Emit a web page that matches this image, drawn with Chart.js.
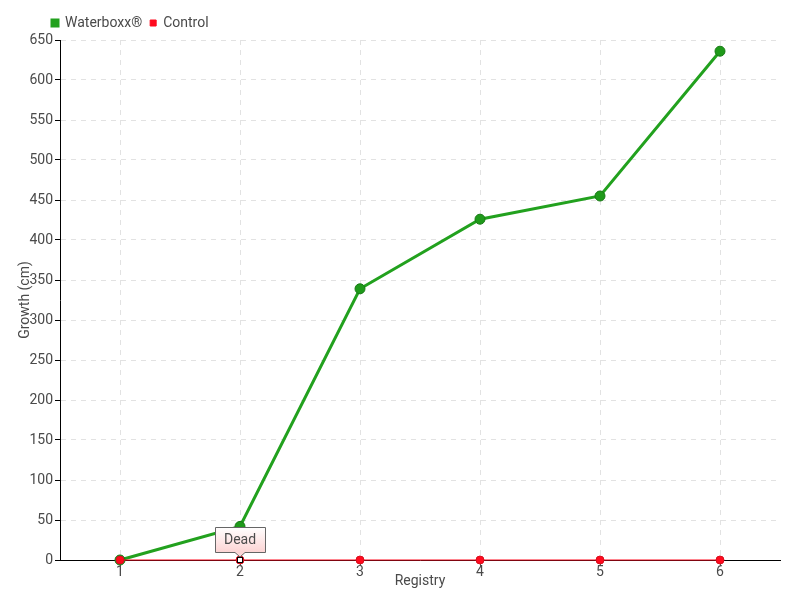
<!DOCTYPE html>
<html>
<head>
<meta charset="utf-8">
<script src="https://cdn.jsdelivr.net/npm/chart.js@4/dist/chart.umd.min.js"></script>
<style>
  html, body { margin: 0; padding: 0; background: #fff; }
  #wrap { width: 800px; height: 600px; }
</style>
</head>
<body>
<div id="wrap"><canvas id="myChart" width="800" height="600"></canvas></div>
<script>
// Data
const registry = ["1", "2", "3", "4", "5", "6"];
const waterboxx = [0, 42, 339, 426, 455, 636];
const control = [0, 0, 0, 0, 0, 0];
const notes = { 1: "Dead" }; // note on the control series, by index

const FONT = "Roboto, 'Noto Sans', sans-serif";
Chart.defaults.font.family = FONT;
Chart.defaults.font.size = 14;
Chart.defaults.color = "#4a4a4a";

// Push the legend to the right a bit, like the original
const legendShift = {
  id: "legendShift",
  afterLayout(chart) {
    chart.legend.left += 44;
    chart.legend.right += 44;
  }
};

// Little callout box above a control point
const notePlugin = {
  id: "notes",
  afterDatasetsDraw(chart) {
    const ctx = chart.ctx;
    const xs = chart.scales.x, ys = chart.scales.y;
    Object.keys(notes).forEach(i => {
      const px = xs.getPixelForValue(Number(i));
      const py = ys.getPixelForValue(control[i]);
      // marker
      ctx.save();
      ctx.fillStyle = "#fff";
      ctx.strokeStyle = "#000";
      ctx.lineWidth = 1;
      ctx.fillRect(px - 2.5, py - 2.5, 5, 5);
      ctx.strokeRect(px - 2.5, py - 2.5, 5, 5);
      // box
      const w = 50, h = 25;
      const left = px - w / 2, bottom = py - 8, top = bottom - h;
      const g = ctx.createLinearGradient(0, top, 0, bottom);
      g.addColorStop(0, "#ffffff");
      g.addColorStop(1, "#fcd4d4");
      ctx.beginPath();
      ctx.moveTo(left + 0.5, top + 0.5);
      ctx.lineTo(left + w + 0.5, top + 0.5);
      ctx.lineTo(left + w + 0.5, bottom + 0.5);
      ctx.lineTo(px + 5, bottom + 0.5);
      ctx.lineTo(px, bottom + 5);
      ctx.lineTo(px - 5, bottom + 0.5);
      ctx.lineTo(left + 0.5, bottom + 0.5);
      ctx.closePath();
      ctx.fillStyle = g;
      ctx.fill();
      ctx.strokeStyle = "#666";
      ctx.stroke();
      ctx.fillStyle = "#4a4a4a";
      ctx.font = "14px " + FONT;
      ctx.textAlign = "center";
      ctx.textBaseline = "middle";
      ctx.fillText(notes[i], px, top + h / 2 + 1);
      ctx.restore();
    });
  }
};

const ctx = document.getElementById("myChart").getContext("2d");
new Chart(ctx, {
  type: "line",
  data: {
    labels: registry,
    datasets: [
      {
        label: "Waterboxx®",
        data: waterboxx,
        order: 1,
        clip: false,
        borderColor: "#22a11e",
        backgroundColor: "#22a11e",
        pointBackgroundColor: "#1f9a1a",
        pointBorderColor: "#177a14",
        borderWidth: 3,
        pointRadius: 5,
        pointBorderWidth: 1,
        tension: 0
      },
      {
        label: "Control",
        data: control,
        order: 0,
        clip: false,
        borderColor: "#ff0a1e",
        backgroundColor: "#ff0a1e",
        pointBackgroundColor: "#ff0a1e",
        pointBorderColor: "#d8101e",
        pointRadius: 4,
        pointBorderWidth: 1,
        borderWidth: 1,
        tension: 0
      }
    ]
  },
  options: {
    responsive: false,
    animation: false,
    layout: { padding: { left: 0, right: 20, top: 8, bottom: 0 } },
    plugins: {
      legend: {
        display: true,
        position: "top",
        align: "start",
        labels: {
          boxWidth: 6,
          boxHeight: 6,
          padding: 8,
          font: { size: 14 },
          color: "#4a4a4a",
          sort: (a, b) => a.datasetIndex - b.datasetIndex
        }
      },
      tooltip: { enabled: false }
    },
    scales: {
      x: {
        offset: true,
        title: { display: true, text: "Registry", padding: { top: 0, bottom: 10 }, font: { size: 14 } },
        border: { display: true, color: "#000", width: 1, dash: [5, 5] },
        grid: { color: "#e2e2e2", tickColor: "#555", tickLength: 6, tickBorderDash: [] },
        ticks: { padding: -2 },
        afterFit(s) { s.height = 40; }
      },
      y: {
        min: 0,
        max: 650,
        title: { display: true, text: "Growth (cm)", padding: { top: 17, bottom: 0 }, font: { size: 14 } },
        border: { display: true, color: "#000", width: 1, dash: [5, 5] },
        grid: { color: "#e2e2e2", tickColor: "#000", tickLength: 5, tickBorderDash: [] },
        ticks: { stepSize: 50, padding: 2 },
        afterFit(s) { s.width = 60; }
      }
    }
  },
  plugins: [legendShift, notePlugin]
});
</script>
</body>
</html>
